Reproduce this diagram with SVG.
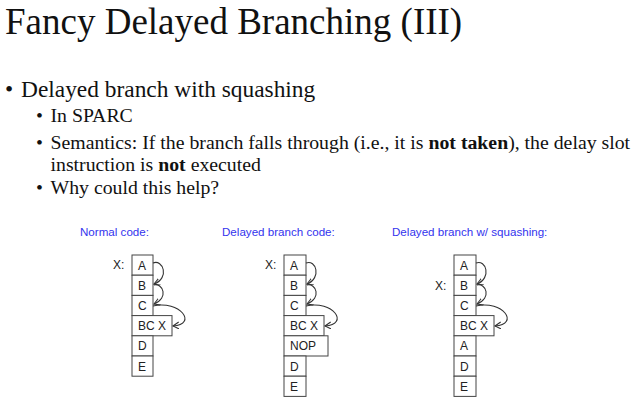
<svg xmlns="http://www.w3.org/2000/svg" width="639" height="400" viewBox="0 0 639 400">
<style>
.title{font-family:"Liberation Serif","Times New Roman",serif;font-size:37px;fill:#111}
.b1{font-family:"Liberation Serif","Times New Roman",serif;font-size:23.4px;fill:#111}
.b2{font-family:"Liberation Serif","Times New Roman",serif;font-size:19.8px;fill:#111}
.bold{font-weight:bold}
.cap{font-family:"Liberation Sans",Arial,sans-serif;font-size:11.6px;fill:#3333ee}
.lbl{font-family:"Liberation Sans",Arial,sans-serif;font-size:12px;fill:#222}
.box{fill:#fff;stroke:#444;stroke-width:1}
.arc{fill:none;stroke:#333;stroke-width:1.1;marker-end:url(#ah)}
</style>
<defs>
<marker id="ah" markerUnits="userSpaceOnUse" markerWidth="8" markerHeight="8" refX="6" refY="3.5" orient="auto">
<path d="M0,0 L6,3.5 L0,7" fill="none" stroke="#333" stroke-width="1.1"/>
</marker>
</defs>
<rect width="639" height="400" fill="#fff"/>
<text class="title" x="5" y="34">Fancy Delayed Branching (III)</text>
<text class="b1" x="5" y="97">•</text>
<text class="b1" x="21" y="97">Delayed branch with squashing</text>
<text class="b2" x="36" y="122">•</text>
<text class="b2" x="50.5" y="122">In SPARC</text>
<text class="b2" x="36" y="149">•</text>
<text class="b2" x="50.5" y="149">Semantics: If the branch falls through (i.e., it is <tspan class="bold">not taken</tspan>), the delay slot</text>
<text class="b2" x="50.5" y="171">instruction is <tspan class="bold">not</tspan> executed</text>
<text class="b2" x="36" y="194">•</text>
<text class="b2" x="50.5" y="194">Why could this help?</text>

<text class="cap" x="80" y="236">Normal code:</text>
<text class="cap" x="222" y="236">Delayed branch code:</text>
<text class="cap" x="392" y="236">Delayed branch w/ squashing:</text>

<g id="d1">
<text class="lbl" x="113" y="269">X:</text>
<g id="d1-A"><rect class="box" x="132" y="255" width="21" height="20.2"/><text class="lbl" x="138" y="269.5">A</text></g>
<g id="d1-B"><rect class="box" x="132" y="275.2" width="21" height="20.2"/><text class="lbl" x="138" y="289.7">B</text></g>
<g id="d1-C"><rect class="box" x="132" y="295.4" width="21" height="20.2"/><text class="lbl" x="138" y="309.9">C</text></g>
<g id="d1-BC"><rect class="box" x="132" y="315.6" width="40" height="20.2"/><text class="lbl" x="138" y="330.1">BC X</text></g>
<g id="d1-D"><rect class="box" x="132" y="335.8" width="21" height="20.2"/><text class="lbl" x="138" y="350.3">D</text></g>
<g id="d1-E"><rect class="box" x="132" y="356" width="21" height="20.2"/><text class="lbl" x="138" y="370.5">E</text></g>
</g>

<g id="d2">
<text class="lbl" x="265" y="269">X:</text>
<g id="d2-A"><rect class="box" x="284" y="255" width="22" height="20.2"/><text class="lbl" x="290" y="269.5">A</text></g>
<g id="d2-B"><rect class="box" x="284" y="275.2" width="22" height="20.2"/><text class="lbl" x="290" y="289.7">B</text></g>
<g id="d2-C"><rect class="box" x="284" y="295.4" width="22" height="20.2"/><text class="lbl" x="290" y="309.9">C</text></g>
<g id="d2-BC"><rect class="box" x="284" y="315.6" width="40" height="20.2"/><text class="lbl" x="290" y="330.1">BC X</text></g>
<g id="d2-NOP"><rect class="box" x="284" y="335.8" width="44" height="20.2"/><text class="lbl" x="290" y="350.3">NOP</text></g>
<g id="d2-D"><rect class="box" x="284" y="356" width="22" height="20.2"/><text class="lbl" x="290" y="370.5">D</text></g>
<g id="d2-E"><rect class="box" x="284" y="376.2" width="22" height="20.2"/><text class="lbl" x="290" y="390.7">E</text></g>
</g>

<g id="d3">
<text class="lbl" x="435" y="289.5">X:</text>
<g id="d3-A"><rect class="box" x="454" y="255" width="22" height="20.2"/><text class="lbl" x="460" y="269.5">A</text></g>
<g id="d3-B"><rect class="box" x="454" y="275.2" width="22" height="20.2"/><text class="lbl" x="460" y="289.7">B</text></g>
<g id="d3-C"><rect class="box" x="454" y="295.4" width="22" height="20.2"/><text class="lbl" x="460" y="309.9">C</text></g>
<g id="d3-BC"><rect class="box" x="454" y="315.6" width="40" height="20.2"/><text class="lbl" x="460" y="330.1">BC X</text></g>
<g id="d3-A2"><rect class="box" x="454" y="335.8" width="22" height="20.2"/><text class="lbl" x="460" y="350.3">A</text></g>
<g id="d3-D"><rect class="box" x="454" y="356" width="22" height="20.2"/><text class="lbl" x="460" y="370.5">D</text></g>
<g id="d3-E"><rect class="box" x="454" y="376.2" width="22" height="20.2"/><text class="lbl" x="460" y="390.7">E</text></g>
</g>

<g id="connectors">
<path class="arc" d="M153,263 C163,259 170,278 154,284"/>
<path class="arc" d="M154,285 C163,283 169,298 154,304"/>
<path class="arc" d="M153,306 C180,300 198,324 173,326"/>
<path class="arc" d="M306,263 C316,259 322,278 307,284"/>
<path class="arc" d="M307,285 C316,283 322,298 307,304"/>
<path class="arc" d="M306,306 C333,300 350,324 325,326"/>
<path class="arc" d="M476,263 C486,259 492,278 477,284"/>
<path class="arc" d="M477,285 C486,283 492,298 477,304"/>
<path class="arc" d="M476,306 C503,300 520,324 495,326"/>
</g>
</svg>
